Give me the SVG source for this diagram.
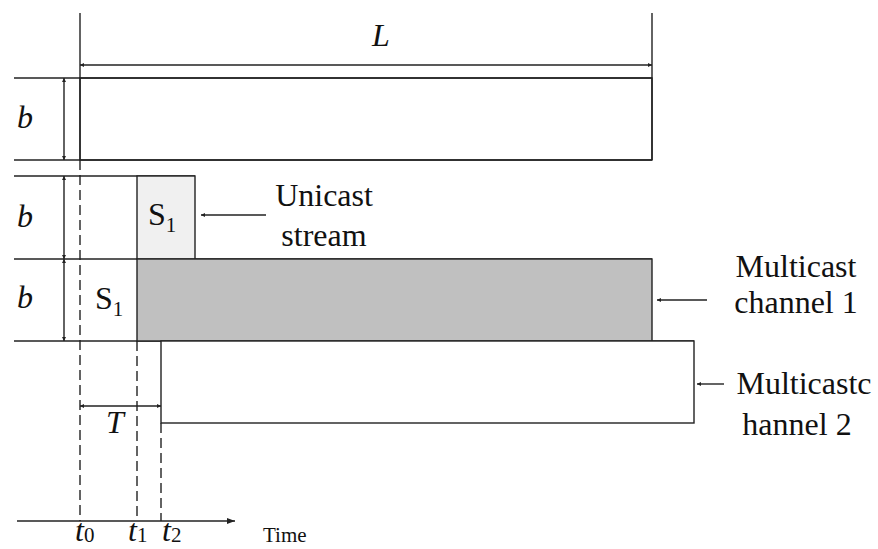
<svg xmlns="http://www.w3.org/2000/svg" width="878" height="549" viewBox="0 0 878 549">
  <style>
    .ln { stroke: #222; stroke-width: 1.4; fill: none; }
    .dash { stroke: #222; stroke-width: 1.4; fill: none; stroke-dasharray: 10 5; }
    .box { stroke: #222; stroke-width: 1.4; }
    .txt { font-family: "Liberation Serif", "Times New Roman", serif; font-size: 32px; fill: #111; }
    .it { font-family: "Liberation Serif", "Times New Roman", serif; font-style: italic; font-size: 32px; fill: #111; }
    .sub { font-size: 21px; font-style: normal; }
  </style>
  <defs>
    <marker id="ah" viewBox="0 0 8 6" refX="8" refY="3" markerWidth="8" markerHeight="6" markerUnits="userSpaceOnUse" orient="auto-start-reverse">
      <path d="M0,0 L8,3 L0,6 z" fill="#222"/>
    </marker>
    <marker id="tick" viewBox="0 0 4 4" refX="4" refY="2" markerWidth="4" markerHeight="4" markerUnits="userSpaceOnUse" orient="auto-start-reverse">
      <path d="M0,0 L4,2 L0,4 z" fill="#222"/>
    </marker>
  </defs>

  <!-- frame lines spanning the rows -->
  <g id="grid">
    <line class="ln" x1="14" y1="78" x2="652" y2="78"/>
    <line class="ln" x1="14" y1="160" x2="652" y2="160"/>
    <line class="ln" x1="14" y1="176" x2="195" y2="176"/>
    <line class="ln" x1="14" y1="259" x2="652" y2="259"/>
    <line class="ln" x1="14" y1="341" x2="694" y2="341"/>
    <line class="ln" x1="80" y1="13" x2="80" y2="160"/>
    <line class="ln" x1="652" y1="13" x2="652" y2="160"/>
  </g>

  <!-- stream blocks -->
  <g id="block-top">
    <rect class="box" x="80" y="78" width="572" height="82" fill="none"/>
  </g>
  <g id="unicast-block">
    <rect class="box" x="137" y="176" width="58" height="83" fill="#f0f0f0"/>
    <text class="txt" x="148" y="225">S<tspan class="sub" dy="7">1</tspan></text>
  </g>
  <g id="multicast-1">
    <rect class="box" x="137" y="259" width="515" height="82" fill="#c0c0c0"/>
  </g>
  <g id="s1-row3">
    <text class="txt" x="95" y="309">S<tspan class="sub" dy="7">1</tspan></text>
  </g>
  <g id="multicast-2">
    <rect class="box" x="161" y="341" width="533" height="82" fill="#ffffff"/>
  </g>

  <!-- time guides, dimensions and pointers -->
  <g id="connectors">
    <line class="dash" x1="80" y1="160" x2="80" y2="521"/>
    <line class="dash" x1="137" y1="341" x2="137" y2="521"/>
    <line class="dash" x1="161" y1="423" x2="161" y2="521"/>

    <line class="ln" x1="80" y1="65" x2="652" y2="65" marker-start="url(#tick)" marker-end="url(#tick)"/>
    <line class="ln" x1="64" y1="78" x2="64" y2="160" marker-start="url(#tick)" marker-end="url(#tick)"/>
    <line class="ln" x1="64" y1="176" x2="64" y2="259" marker-start="url(#tick)" marker-end="url(#tick)"/>
    <line class="ln" x1="64" y1="259" x2="64" y2="341" marker-start="url(#tick)" marker-end="url(#tick)"/>
    <line class="ln" x1="80" y1="406" x2="161" y2="406" marker-start="url(#tick)" marker-end="url(#tick)"/>

    <line class="ln" x1="17" y1="521" x2="235" y2="521" marker-end="url(#ah)"/>

    <line class="ln" x1="266" y1="215" x2="201" y2="215" marker-end="url(#tick)"/>
    <line class="ln" x1="707" y1="300" x2="657" y2="300" marker-end="url(#tick)"/>
    <line class="ln" x1="724" y1="384" x2="697" y2="384" marker-end="url(#tick)"/>
  </g>

  <!-- labels -->
  <g id="labels">
    <text class="it" x="372" y="46">L</text>
    <text class="it" x="17" y="128">b</text>
    <text class="it" x="17" y="227">b</text>
    <text class="it" x="17" y="308">b</text>
    <text class="it" x="106" y="433">T</text>
    <text class="it" x="75" y="541">t<tspan class="sub" dy="1">0</tspan></text>
    <text class="it" x="128" y="541">t<tspan class="sub" dy="1">1</tspan></text>
    <text class="it" x="162" y="541">t<tspan class="sub" dy="1">2</tspan></text>
    <text class="txt" x="263" y="542" style="font-size:21px">Time</text>

    <text class="txt" x="324" y="206" text-anchor="middle">Unicast</text>
    <text class="txt" x="324" y="246" text-anchor="middle">stream</text>
    <text class="txt" x="796" y="277" text-anchor="middle">Multicast</text>
    <text class="txt" x="796" y="313" text-anchor="middle">channel 1</text>
    <text class="txt" x="804" y="394" text-anchor="middle">Multicastc</text>
    <text class="txt" x="797" y="435" text-anchor="middle">hannel 2</text>
  </g>
</svg>
